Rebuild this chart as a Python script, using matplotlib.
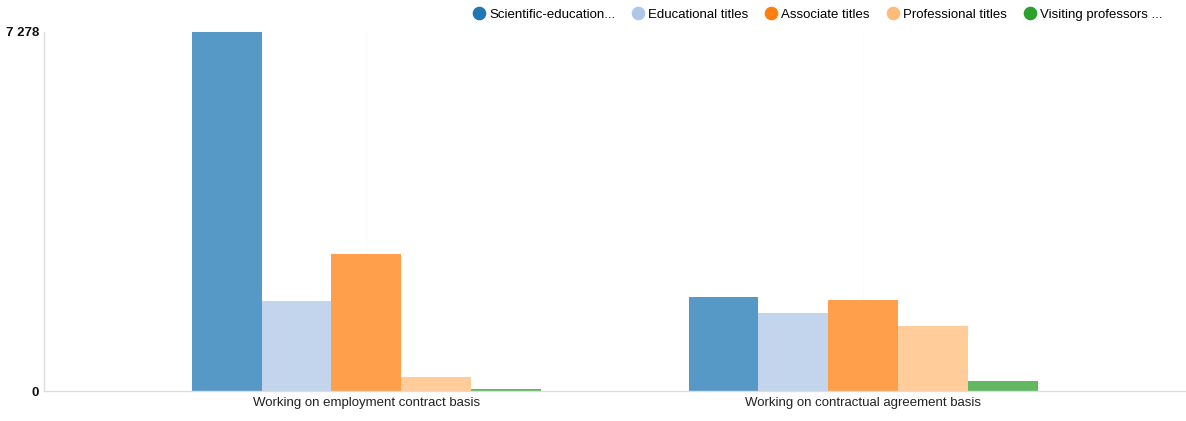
import matplotlib
matplotlib.use("Agg")
import matplotlib.pyplot as plt
from matplotlib.lines import Line2D
import numpy as np

plt.rcParams['font.family'] = ['Liberation Sans', 'DejaVu Sans']

categories = ["Working on employment contract basis", "Working on contractual agreement basis"]
series_names = ["Scientific-education...", "Educational titles", "Associate titles",
                "Professional titles", "Visiting professors ..."]
values = {
    "Scientific-education...": [7278, 1908],
    "Educational titles": [1813, 1571],
    "Associate titles": [2784, 1848],
    "Professional titles": [283, 1322],
    "Visiting professors ...": [34, 210],
}
colors = ["#1f77b4", "#aec7e8", "#ff7f0e", "#ffbb78", "#2ca02c"]
y_ticks = [0, 7278]
y_tick_labels = ["0", "7 278"]

W, H = 1186, 421
fig = plt.figure(figsize=(W / 100, H / 100), dpi=100)
left, right, bottom, top = 43.5, 1186, 391, 31.7
ax = fig.add_axes([left / W, (H - bottom) / H, (right - left) / W, (bottom - top) / H])

x = np.arange(len(categories))
bw = 70 / 498
n = len(series_names)
for i, (name, c) in enumerate(zip(series_names, colors)):
    offs = (i - (n - 1) / 2) * bw
    ax.bar(x + offs, values[name], width=bw, color=c, alpha=0.75, linewidth=0)

pad = (367 - left) / 498
ax.set_xlim(-pad, 1 + pad)
ax.set_ylim(0, 7278)
ax.set_xticks(x)
ax.set_xticklabels(categories, fontsize=9.5, color="#222222")
ax.set_yticks(y_ticks)
ax.set_yticklabels(y_tick_labels, fontsize=9.5, fontweight="bold", color="#111111")
ax.tick_params(axis="both", length=0, pad=4)
ax.tick_params(axis="y", pad=3)
for s in ["top", "right"]:
    ax.spines[s].set_visible(False)
for s in ["left", "bottom"]:
    ax.spines[s].set_color("#dddddd")
    ax.spines[s].set_linewidth(1)
for xi in x:
    ax.axvline(xi, color="#fbfbfb", lw=1, zorder=0)

handles = [Line2D([0], [0], marker="o", linestyle="", markersize=8.8,
                  markerfacecolor=c, markeredgecolor=c) for c in colors]
fig.legend(handles, series_names, loc="center right", bbox_to_anchor=(1162 / W, 1 - 15 / H),
           ncol=5, frameon=False, fontsize=9.5, handlelength=0.9, handletextpad=0.3,
           columnspacing=1.3, borderaxespad=0, borderpad=0)

fig.savefig("out.png", dpi=100)
